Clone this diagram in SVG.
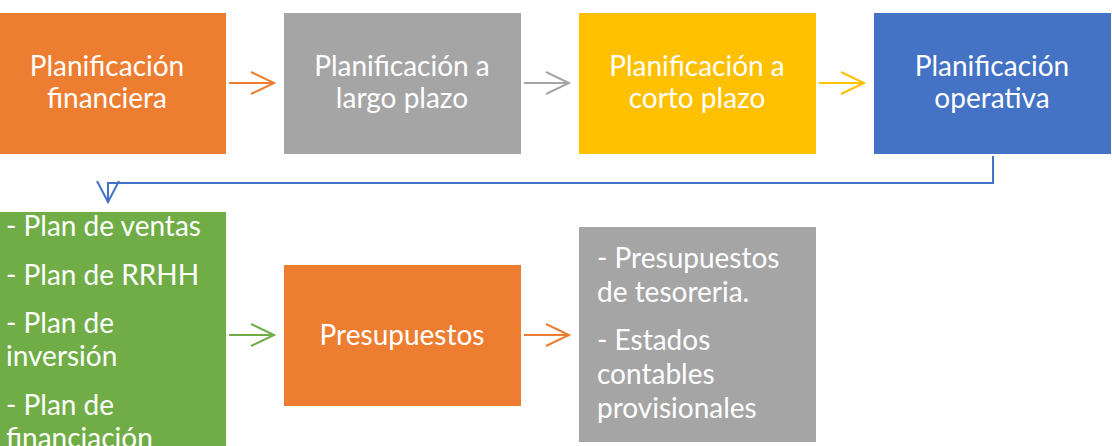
<svg xmlns="http://www.w3.org/2000/svg" width="1112" height="446" viewBox="0 0 1112 446">
<style>
.t{font-family:Lato,"Liberation Sans",sans-serif;font-size:28px;fill:#ffffff}
.c{text-anchor:middle}
.ln{fill:none;stroke-width:2}
</style>
<defs>
<marker id="mo" markerUnits="userSpaceOnUse" viewBox="-25 -13 27 26" refX="0" refY="0" markerWidth="27" markerHeight="26" orient="auto" overflow="visible"><path d="M-23,-11 L0,0 L-23,11" fill="none" stroke="#ED7D31" stroke-width="2"/></marker>
<marker id="mg" markerUnits="userSpaceOnUse" viewBox="-25 -13 27 26" refX="0" refY="0" markerWidth="27" markerHeight="26" orient="auto" overflow="visible"><path d="M-23,-11 L0,0 L-23,11" fill="none" stroke="#A5A5A5" stroke-width="2"/></marker>
<marker id="my" markerUnits="userSpaceOnUse" viewBox="-25 -13 27 26" refX="0" refY="0" markerWidth="27" markerHeight="26" orient="auto" overflow="visible"><path d="M-23,-11 L0,0 L-23,11" fill="none" stroke="#FFC000" stroke-width="2"/></marker>
<marker id="mgr" markerUnits="userSpaceOnUse" viewBox="-25 -13 27 26" refX="0" refY="0" markerWidth="27" markerHeight="26" orient="auto" overflow="visible"><path d="M-23,-11 L0,0 L-23,11" fill="none" stroke="#70AD47" stroke-width="2"/></marker>
<marker id="mb" markerUnits="userSpaceOnUse" viewBox="-25 -13 27 26" refX="0" refY="0" markerWidth="27" markerHeight="26" orient="auto" overflow="visible"><path d="M-21,-11 L0,0 L-21,11" fill="none" stroke="#4472C4" stroke-width="2"/></marker>
</defs>
<rect width="1112" height="446" fill="#ffffff"/>
<g id="n1">
<rect x="-11" y="13" width="237" height="141" fill="#ED7D31"/>
<text class="t c" x="107" y="76">Planificación</text>
<text class="t c" x="107" y="108">financiera</text>
</g>
<g id="n2">
<rect x="284" y="13" width="237" height="141" fill="#A5A5A5"/>
<text class="t c" x="402" y="76">Planificación a</text>
<text class="t c" x="402" y="108">largo plazo</text>
</g>
<g id="n3">
<rect x="579" y="13" width="237" height="141" fill="#FFC000"/>
<text class="t c" x="697" y="76">Planificación a</text>
<text class="t c" x="697" y="108">corto plazo</text>
</g>
<g id="n4">
<rect x="874" y="13" width="237" height="141" fill="#4472C4"/>
<text class="t c" x="992" y="76">Planificación</text>
<text class="t c" x="992" y="108">operativa</text>
</g>
<g id="n5">
<rect x="-11" y="212" width="237" height="250" fill="#70AD47"/>
<text class="t" x="6" y="236">- Plan de ventas</text>
<text class="t" x="6" y="285">- Plan de RRHH</text>
<text class="t" x="6" y="333">- Plan de</text>
<text class="t" x="6" y="366">inversión</text>
<text class="t" x="6" y="415">- Plan de</text>
<text class="t" x="6" y="448">financiación</text>
</g>
<g id="n6">
<rect x="284" y="265" width="237" height="141" fill="#ED7D31"/>
<text class="t c" x="402" y="345">Presupuestos</text>
</g>
<g id="n7">
<rect x="579" y="227" width="237" height="215" fill="#A5A5A5"/>
<text class="t" x="597" y="268">- Presupuestos</text>
<text class="t" x="597" y="302">de tesoreria.</text>
<text class="t" x="597" y="350">- Estados</text>
<text class="t" x="597" y="384">contables</text>
<text class="t" x="597" y="418">provisionales</text>
</g>
<g id="connectors">
<path class="ln" d="M229,83 H274" stroke="#ED7D31" marker-end="url(#mo)"/>
<path class="ln" d="M524,83 H569" stroke="#A5A5A5" marker-end="url(#mg)"/>
<path class="ln" d="M819,83 H864" stroke="#FFC000" marker-end="url(#my)"/>
<path class="ln" d="M993,156 V183 H108 V202" stroke="#4472C4" marker-end="url(#mb)"/>
<path class="ln" d="M229,335 H274" stroke="#70AD47" marker-end="url(#mgr)"/>
<path class="ln" d="M524,335 H569" stroke="#ED7D31" marker-end="url(#mo)"/>
</g>
</svg>
